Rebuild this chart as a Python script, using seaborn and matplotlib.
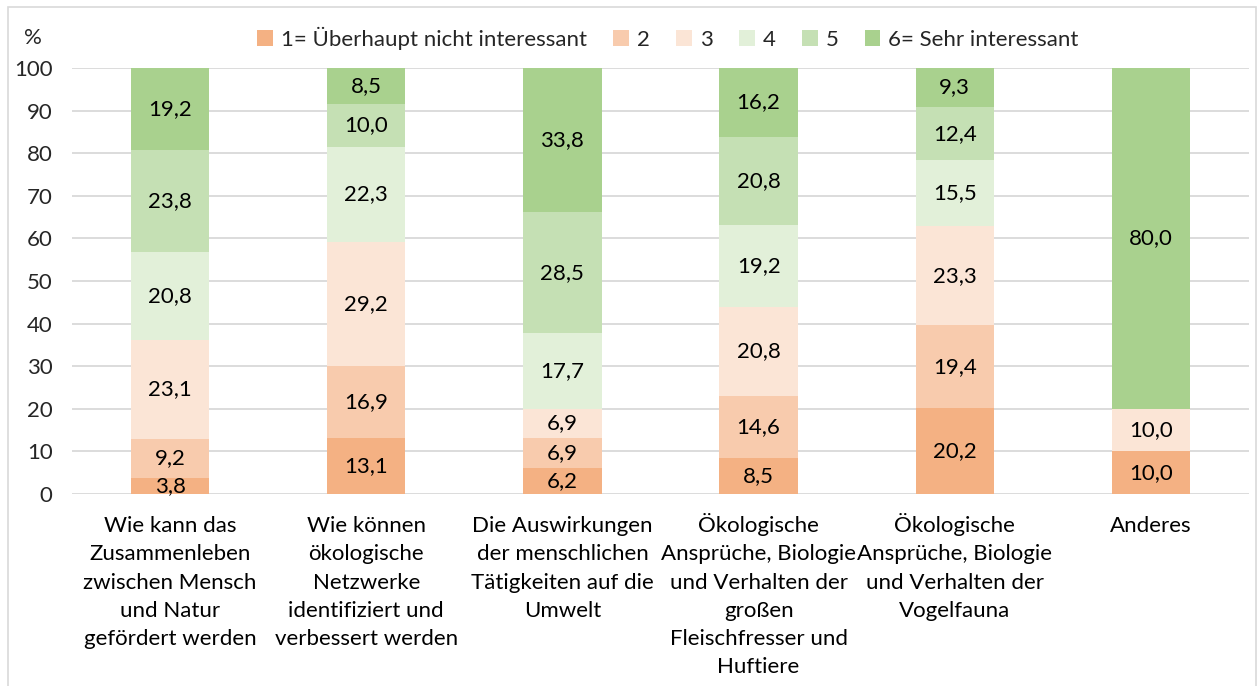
import matplotlib
matplotlib.use("Agg")
import matplotlib.pyplot as plt
import matplotlib.transforms as mtransforms
import seaborn as sns
import numpy as np
import pandas as pd
from matplotlib.patches import Rectangle

categories = [
    "Wie kann das\nZusammenleben\nzwischen Mensch\nund Natur\ngefördert werden",
    "Wie können\nökologische\nNetzwerke\nidentifiziert und\nverbessert werden",
    "Die Auswirkungen\nder menschlichen\nTätigkeiten auf die\nUmwelt",
    "Ökologische\nAnsprüche, Biologie\nund Verhalten der\ngroßen\nFleischfresser und\nHuftiere",
    "Ökologische\nAnsprüche, Biologie\nund Verhalten der\nVogelfauna",
    "Anderes",
]
series_names = ["1= Überhaupt nicht interessant", "2", "3", "4", "5", "6= Sehr interessant"]
s1 = [3.8, 13.1, 6.2, 8.5, 20.2, 10.0]
s2 = [9.2, 16.9, 6.9, 14.6, 19.4, 0.0]
s3 = [23.1, 29.2, 6.9, 20.8, 23.3, 10.0]
s4 = [20.8, 22.3, 17.7, 19.2, 15.5, 0.0]
s5 = [23.8, 10.0, 28.5, 20.8, 12.4, 0.0]
s6 = [19.2, 8.5, 33.8, 16.2, 9.3, 80.0]
yticks = list(range(0, 101, 10))

colors = ["#F4B183", "#F8CBAD", "#FBE5D6", "#E2F0D9", "#C5E0B4", "#A9D18E"]

sns.set_theme(style="white")
plt.rcParams['font.family'] = ['Lato', 'DejaVu Sans']
FS = 16

fig = plt.figure(figsize=(12.58, 6.86), dpi=100)
ax = fig.add_axes([72/1258, 1-494/686, (1249-72)/1258, (494-68)/686])

all_series = [s1, s2, s3, s4, s5, s6]
bottom = np.zeros(len(categories))
for name, vals, col in zip(series_names, all_series, colors):
    df = pd.DataFrame({"cat": categories, "val": vals})
    sns.barplot(data=df, x="cat", y="val", bottom=bottom.copy(), color=col,
                width=0.4, ax=ax, saturation=1, label=name, zorder=3,
                linewidth=0)
    for i, v in enumerate(vals):
        if v > 0:
            ax.text(i, bottom[i] + v/2, f"{v:.1f}".replace(".", ","),
                    ha="center", va="center", fontsize=FS, color="#000000", zorder=4)
    bottom = bottom + np.array(vals)

ax.set_ylim(0, 100)
ax.set_xlim(-0.5, len(categories) - 0.5)
ax.set_yticks(yticks)
ax.set_yticklabels([str(t) for t in yticks], fontsize=FS)
ax.set_xticks(range(len(categories)))
ax.set_xticklabels([""] * len(categories))
ax.tick_params(axis="x", length=0)
ax.tick_params(axis="y", length=0, pad=14)
ax.set_xlabel("")
ax.set_ylabel("")
ax.grid(axis="y", color="#D9D9D9", linewidth=1.3, zorder=0)
ax.set_axisbelow(True)
for sp in ax.spines.values():
    sp.set_visible(False)
if ax.legend_:
    ax.legend_.remove()

# category labels, line by line with aligned baselines
blend = mtransforms.blended_transform_factory(ax.transData, ax.transAxes)
first_base_pt = 27.5
step_pt = 20.3
for i, lab in enumerate(categories):
    for j, line in enumerate(lab.split("\n")):
        off = mtransforms.ScaledTranslation(0, -(first_base_pt + j * step_pt) / 72,
                                            fig.dpi_scale_trans)
        ax.text(i, 0, line, transform=blend + off, ha="center", va="baseline",
                fontsize=FS, color="#000000")

h, l = ax.get_legend_handles_labels()
fig.legend(h, l, loc="center", bbox_to_anchor=(668/1258, 1-38/686), ncol=6,
           frameon=False, fontsize=FS, handlelength=0.7, handleheight=0.7,
           handletextpad=0.35, columnspacing=1.2)

fig.text(33/1258, 1-38/686, "%", ha="center", va="center", fontsize=FS)

fig.patches.append(Rectangle((8/1258, -0.05), (1256-8)/1258, 1-7/686+0.05,
                             transform=fig.transFigure, fill=False,
                             edgecolor="#D9D9D9", linewidth=1.2))

fig.savefig("out.png", dpi=100)
